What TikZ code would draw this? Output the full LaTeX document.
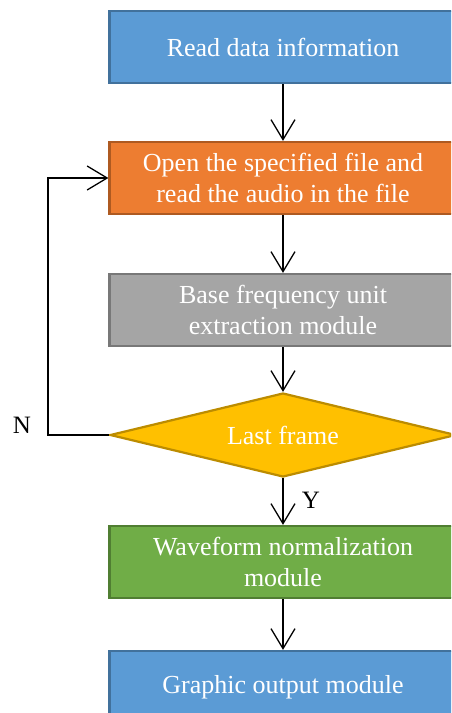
\documentclass[tikz,border=0pt]{standalone}
\usepackage{fontspec}
\setmainfont{Liberation Serif}
\usetikzlibrary{shapes.geometric,arrows.meta}
\definecolor{bfill}{HTML}{5B9BD5}\definecolor{bdraw}{HTML}{41719C}
\definecolor{ofill}{HTML}{ED7D31}\definecolor{odraw}{HTML}{AE5A21}
\definecolor{gfill}{HTML}{A5A5A5}\definecolor{gdraw}{HTML}{787878}
\definecolor{yfill}{HTML}{FFC000}\definecolor{ydraw}{HTML}{BC8C00}
\definecolor{vfill}{HTML}{70AD47}\definecolor{vdraw}{HTML}{507E32}
\tikzset{
  box/.style={rectangle, minimum width=347pt, minimum height=72pt, inner sep=0pt,
    line width=2.2pt, text=white, align=center,
    font=\fontsize{26}{31}\selectfont},
  dec/.style={diamond, minimum width=346pt, minimum height=84pt, inner sep=0pt, aspect=4,
    line width=2.2pt, text=white, font=\fontsize{26}{31}\selectfont},
  conn/.style={line width=1.3pt, -{Straight Barb[length=20pt,width=24pt,line width=1.3pt]}},
  lbl/.style={font=\fontsize{25}{31}\selectfont, text=black},
}
\begin{document}
\begin{tikzpicture}[x=1pt,y=-1pt]
\useasboundingbox (0,0) rectangle (451,713);
\clip (0,0) rectangle (451,713);
\node[box, fill=bfill, draw=bdraw] (n1) at (283,47) {Read data information};
\node[box, fill=ofill, draw=odraw] (n2) at (283,178) {Open the specified file and\\read the audio in the file};
\node[box, fill=gfill, draw=gdraw] (n3) at (283,310) {Base frequency unit\\extraction module};
\node[dec, fill=yfill, draw=ydraw] (n4) at (283,435) {Last frame};
\node[box, fill=vfill, draw=vdraw] (n5) at (283,562) {Waveform normalization\\module};
\node[box, fill=bfill, draw=bdraw] (n6) at (283,687) {Graphic output module};
\coordinate (c1) at (48,435);
\coordinate (c2) at (48,178);
\draw[conn] (n1) -- (n2);
\draw[conn] (n2) -- (n3);
\draw[conn] (n3) -- (n4);
\draw[conn] (n4) -- (n5);
\draw[conn] (n5) -- (n6);
\draw[conn] (n4.west) -- (c1) -- (c2) -- (n2.west);
\node[lbl] (ln) at (22,425) {N};
\node[lbl] (ly) at (311,500) {Y};
\end{tikzpicture}
\end{document}
